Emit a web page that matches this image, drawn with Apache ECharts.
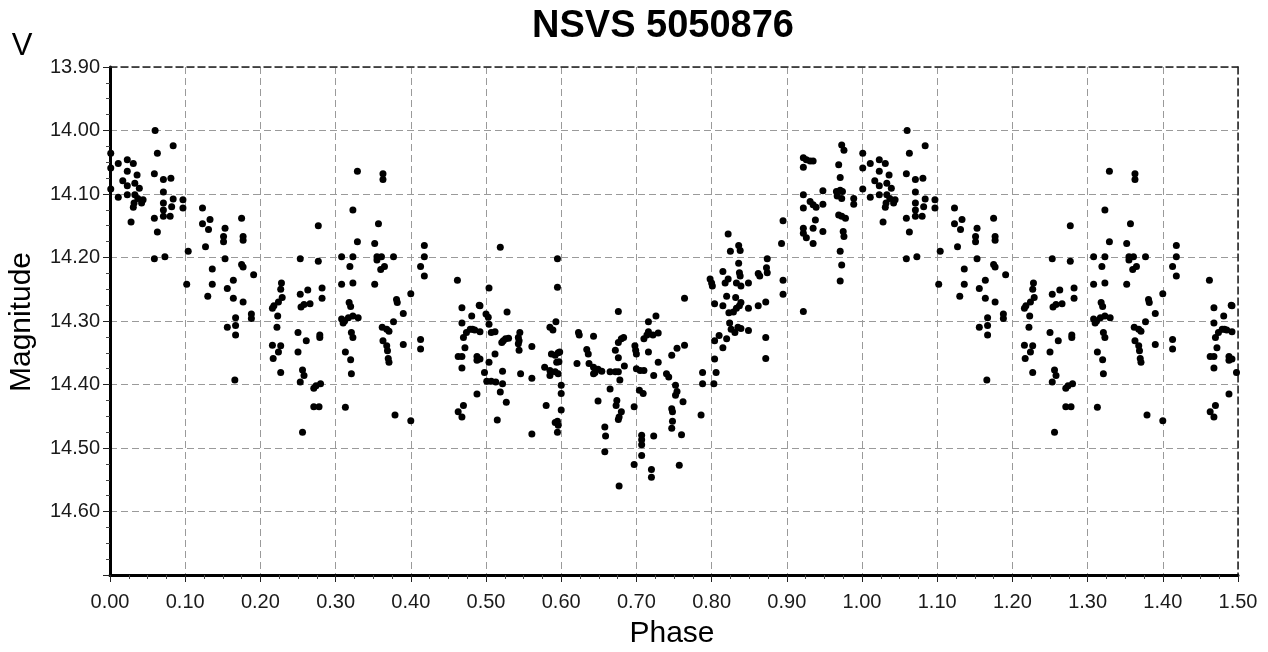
<!DOCTYPE html>
<html>
<head>
<meta charset="utf-8">
<script src="https://cdn.jsdelivr.net/npm/echarts@6/dist/echarts.min.js"></script>
<style>
html,body{margin:0;padding:0;background:#fff;}
#chart{width:1268px;height:652px;}
</style>
</head>
<body>
<div id="chart"></div>
<script>
const obsA = [
[0.060,14.000],[0.084,14.024],[0.063,14.036],[0.001,14.036],[0.011,14.052],[0.023,14.046],[0.031,14.052],[0.001,14.059],[0.023,14.064],[0.059,14.068],
[0.036,14.070],[0.071,14.077],[0.081,14.075],[0.017,14.079],[0.033,14.083],[0.023,14.087],[0.039,14.091],[0.001,14.092],[0.071,14.097],[0.023,14.101],
[0.011,14.105],[0.033,14.101],[0.037,14.107],[0.044,14.109],[0.084,14.108],[0.097,14.109],[0.032,14.114],[0.042,14.114],[0.071,14.114],[0.082,14.120],
[0.031,14.121],[0.097,14.122],[0.071,14.125],[0.123,14.122],[0.080,14.135],[0.059,14.138],[0.071,14.135],[0.123,14.147],[0.133,14.140],[0.028,14.144],
[0.131,14.156],[0.063,14.160],[0.153,14.154],[0.175,14.138],[0.151,14.167],[0.151,14.175],[0.177,14.167],[0.177,14.173],[0.127,14.183],[0.104,14.190],
[0.059,14.202],[0.073,14.199],[0.153,14.202],[0.175,14.211],[0.177,14.215],[0.191,14.227],[0.136,14.218],[0.102,14.242],[0.136,14.242],[0.164,14.236],
[0.156,14.249],[0.130,14.261],[0.164,14.264],[0.177,14.270],[0.188,14.289],[0.188,14.296],[0.167,14.295],[0.156,14.310],[0.167,14.307],[0.167,14.322],
[0.166,14.393],
[0.228,14.240],[0.227,14.250],[0.229,14.263],[0.224,14.270],[0.218,14.276],[0.216,14.280],[0.223,14.292],[0.222,14.310],[0.216,14.338],[0.227,14.339],
[0.224,14.349],[0.217,14.359],[0.227,14.381]
];
const obsB = [
[0.253,14.202],[0.277,14.150],[0.277,14.206],[0.253,14.258],[0.263,14.251],[0.254,14.278],[0.258,14.274],[0.266,14.273],[0.282,14.248],[0.282,14.264],
[0.250,14.318],[0.261,14.331],[0.279,14.322],[0.279,14.326],[0.250,14.349],[0.256,14.377],[0.258,14.386],[0.253,14.396],[0.271,14.406],[0.274,14.402],
[0.280,14.399],[0.271,14.435],[0.278,14.435],[0.256,14.475],
[0.329,14.064],[0.323,14.125],[0.329,14.175],[0.308,14.199],[0.323,14.199],[0.319,14.214],[0.308,14.242],[0.323,14.240],[0.318,14.271],[0.320,14.277],
[0.308,14.297],[0.312,14.300],[0.317,14.295],[0.323,14.292],[0.330,14.295],[0.310,14.303],[0.321,14.318],[0.323,14.326],[0.313,14.349],[0.320,14.361],
[0.321,14.383],[0.313,14.436],
[0.363,14.068],[0.363,14.077],[0.357,14.147],[0.352,14.178],[0.355,14.199],[0.361,14.199],[0.355,14.204],[0.365,14.214],[0.360,14.219],[0.377,14.199],
[0.352,14.242],[0.381,14.266],[0.382,14.271],[0.400,14.257],[0.390,14.288],[0.377,14.301],[0.362,14.310],[0.368,14.313],[0.371,14.316],[0.363,14.331],
[0.368,14.339],[0.369,14.347],[0.390,14.337],[0.370,14.359],[0.371,14.365],[0.379,14.448],[0.400,14.457],
[0.418,14.181],[0.418,14.199],[0.413,14.214],[0.418,14.229],[0.413,14.329],[0.413,14.344],
[0.462,14.236],[0.468,14.279],[0.468,14.303],[0.481,14.292],[0.491,14.275],[0.479,14.313],[0.482,14.313],[0.485,14.314],[0.474,14.318],[0.470,14.326],
[0.472,14.342],[0.463,14.356],[0.468,14.356],[0.468,14.374],[0.488,14.356],[0.488,14.362],[0.488,14.415],[0.470,14.433],[0.463,14.443],[0.468,14.451]
];
const obsC = [
[0.519,14.184],[0.504,14.248],[0.492,14.276],[0.500,14.289],[0.503,14.294],[0.504,14.305],[0.507,14.318],[0.512,14.317],[0.492,14.317],[0.528,14.286],
[0.523,14.331],[0.521,14.334],[0.526,14.328],[0.530,14.327],[0.512,14.352],[0.504,14.365],[0.492,14.360],[0.498,14.381],[0.501,14.395],[0.507,14.395],
[0.513,14.396],[0.522,14.379],[0.522,14.399],[0.519,14.412],[0.527,14.428],[0.515,14.456],
[0.545,14.318],[0.543,14.326],[0.544,14.331],[0.543,14.336],[0.544,14.346],[0.561,14.340],[0.546,14.383],[0.561,14.390],[0.561,14.478],
[0.595,14.202],[0.595,14.247],[0.593,14.301],[0.585,14.310],[0.589,14.314],[0.587,14.352],[0.592,14.354],[0.596,14.350],[0.598,14.349],[0.594,14.365],
[0.597,14.364],[0.578,14.373],[0.585,14.378],[0.592,14.380],[0.596,14.383],[0.585,14.386],[0.600,14.401],[0.600,14.414],[0.580,14.433],[0.600,14.440],
[0.595,14.458],[0.596,14.464],[0.592,14.460],[0.595,14.475],
[0.623,14.318],[0.624,14.322],[0.621,14.367],[0.634,14.345],[0.636,14.352],[0.643,14.324],[0.637,14.367],[0.643,14.373],[0.645,14.381],[0.649,14.376],
[0.654,14.379],[0.643,14.383],[0.649,14.426],
[0.676,14.285],[0.676,14.334],[0.680,14.328],[0.683,14.326],[0.672,14.346],[0.676,14.358],[0.684,14.371],[0.665,14.380],[0.672,14.380],[0.676,14.380],
[0.678,14.393],[0.665,14.407],[0.674,14.425],[0.673,14.433],[0.680,14.443],[0.677,14.451],[0.676,14.455],[0.658,14.467],[0.659,14.481],[0.658,14.506],
[0.677,14.560],
[0.698,14.339],[0.699,14.346],[0.700,14.352],[0.710,14.328],[0.714,14.322],[0.716,14.317],[0.716,14.301],[0.726,14.292],[0.722,14.322],[0.729,14.319],
[0.716,14.349],[0.729,14.365],[0.700,14.375],[0.705,14.378],[0.710,14.378],[0.723,14.386],[0.704,14.409],[0.709,14.414],[0.697,14.435],[0.707,14.480],
[0.707,14.487],[0.707,14.495],[0.707,14.512],[0.723,14.481],[0.697,14.526],[0.720,14.534],[0.720,14.546],
[0.754,14.343],[0.747,14.354],[0.740,14.383],[0.743,14.388],[0.752,14.401],[0.754,14.411],[0.752,14.417],[0.747,14.438],[0.748,14.443],[0.748,14.458],
[0.747,14.469],[0.757,14.527]
];
const obsD = [
[0.764,14.338],[0.762,14.427],[0.760,14.479],
[0.786,14.448],[0.788,14.381],[0.788,14.399],[0.804,14.360],[0.806,14.381],[0.803,14.399],
[0.804,14.331],[0.810,14.323],[0.815,14.342],[0.820,14.328],
[0.824,14.303],[0.826,14.313],[0.831,14.318],[0.835,14.310],[0.839,14.312],[0.849,14.315],[0.872,14.326],[0.872,14.359],
[0.764,14.264],[0.798,14.234],[0.800,14.240],[0.801,14.245],[0.815,14.222],[0.818,14.240],[0.822,14.234],
[0.804,14.273],[0.815,14.276],[0.820,14.261],[0.823,14.287],[0.829,14.286],[0.833,14.280],[0.837,14.276],[0.839,14.271],[0.832,14.263],[0.849,14.280],
[0.862,14.276],[0.872,14.270],
[0.836,14.209],[0.837,14.224],[0.838,14.229],[0.839,14.245],[0.849,14.240],[0.833,14.240],
[0.822,14.163],[0.825,14.190],[0.836,14.181],[0.838,14.189],
[0.862,14.225],[0.864,14.229],[0.873,14.216],[0.874,14.224],[0.874,14.202],
[0.893,14.178],[0.895,14.142],[0.895,14.236],[0.895,14.258],[0.922,14.285],
[0.922,14.043],[0.926,14.046],[0.931,14.048],[0.935,14.048],[0.922,14.058],
[0.922,14.101],[0.922,14.122],[0.931,14.112],[0.935,14.117],[0.939,14.121],[0.948,14.095],[0.948,14.116],
[0.938,14.141],[0.935,14.154],[0.922,14.154],[0.922,14.162],[0.926,14.169],[0.935,14.178],[0.948,14.159],
[0.969,14.054],[0.971,14.074],[0.973,14.023],[0.976,14.031],
[0.966,14.096],[0.967,14.103],[0.971,14.094],[0.974,14.096],[0.973,14.107],
[0.969,14.133],[0.973,14.135],[0.978,14.138],[0.975,14.159],[0.976,14.167],[0.971,14.190],[0.973,14.212],[0.971,14.237],
[0.989,14.107],[0.989,14.116]
];

const titleText = 'NSVS 5050876';
const xName = 'Phase';
const yName = 'Magnitude';
const bandName = 'V';
const xMin = 0, xMax = 1.5, xStep = 0.1;
const yMin = 13.9, yMax = 14.7, yStep = 0.1;

// Phase diagram: observations with phase < 0.5 are shown again at phase + 1
const allObs = obsA.concat(obsB, obsC, obsD);
const plotted = allObs.concat(allObs.filter(p => p[0] < 0.5).map(p => [p[0] + 1, p[1]]));

const FONT = '"Liberation Sans", Arial, sans-serif';
const TXT = '#1a1a1a';
const gridDash = [7, 4];

const chart = echarts.init(document.getElementById('chart'), null, {renderer: 'canvas'});
chart.setOption({
  animation: false,
  backgroundColor: '#ffffff',
  grid: {left: 110, right: 30, top: 67, bottom: 77, containLabel: false},
  xAxis: [{
    type: 'value', min: xMin, max: xMax, interval: xStep,
    axisLine: {show: true, onZero: false, lineStyle: {color: '#000', width: 3}},
    axisTick: {show: true, length: 7, lineStyle: {color: '#222', width: 1}},
    minorTick: {show: true, splitNumber: 4, length: 4, lineStyle: {color: '#444', width: 1}},
    axisLabel: {color: TXT, fontFamily: FONT, fontSize: 20, margin: 17, formatter: v => v.toFixed(2)},
    splitLine: {show: true, lineStyle: {color: '#9a9a9a', width: 1, type: gridDash}}
  }, {
    type: 'value', position: 'top', min: xMin, max: xMax,
    axisLine: {show: true, onZero: false, lineStyle: {color: '#222', width: 1.5, type: gridDash}},
    axisTick: {show: false}, axisLabel: {show: false}, splitLine: {show: false}
  }],
  yAxis: [{
    type: 'value', inverse: true, min: yMin, max: yMax, interval: yStep,
    axisLine: {show: true, onZero: false, lineStyle: {color: '#000', width: 3}},
    axisTick: {show: true, length: 7, lineStyle: {color: '#222', width: 1}},
    minorTick: {show: true, splitNumber: 4, length: 4, lineStyle: {color: '#444', width: 1}},
    axisLabel: {color: TXT, fontFamily: FONT, fontSize: 20, margin: 10,
      formatter: v => (v > yMax - 0.005 ? '' : v.toFixed(2))},
    splitLine: {show: true, lineStyle: {color: '#9a9a9a', width: 1, type: gridDash}}
  }, {
    type: 'value', position: 'right', inverse: true, min: yMin, max: yMax,
    axisLine: {show: true, onZero: false, lineStyle: {color: '#222', width: 1.5, type: gridDash}},
    axisTick: {show: false}, axisLabel: {show: false}, splitLine: {show: false}
  }],
  series: [{
    type: 'scatter', xAxisIndex: 0, yAxisIndex: 0,
    data: plotted, symbol: 'circle', symbolSize: 7,
    itemStyle: {color: '#000', opacity: 1}
  }],
  graphic: [
    {type: 'text', x: 663, y: 27,
     style: {text: titleText, font: 'bold 38px ' + FONT, fill: '#000', textAlign: 'center', textVerticalAlign: 'middle'}},
    {type: 'text', x: 22, y: 46,
     style: {text: bandName, font: '31px ' + FONT, fill: '#000', textAlign: 'center', textVerticalAlign: 'middle'}},
    {type: 'text', x: 672, y: 634,
     style: {text: xName, font: '30px ' + FONT, fill: '#000', textAlign: 'center', textVerticalAlign: 'middle'}},
    {type: 'text', x: 22, y: 322, rotation: Math.PI / 2,
     style: {text: yName, font: '30px ' + FONT, fill: '#000', textAlign: 'center', textVerticalAlign: 'middle'}}
  ]
});
</script>
</body>
</html>
